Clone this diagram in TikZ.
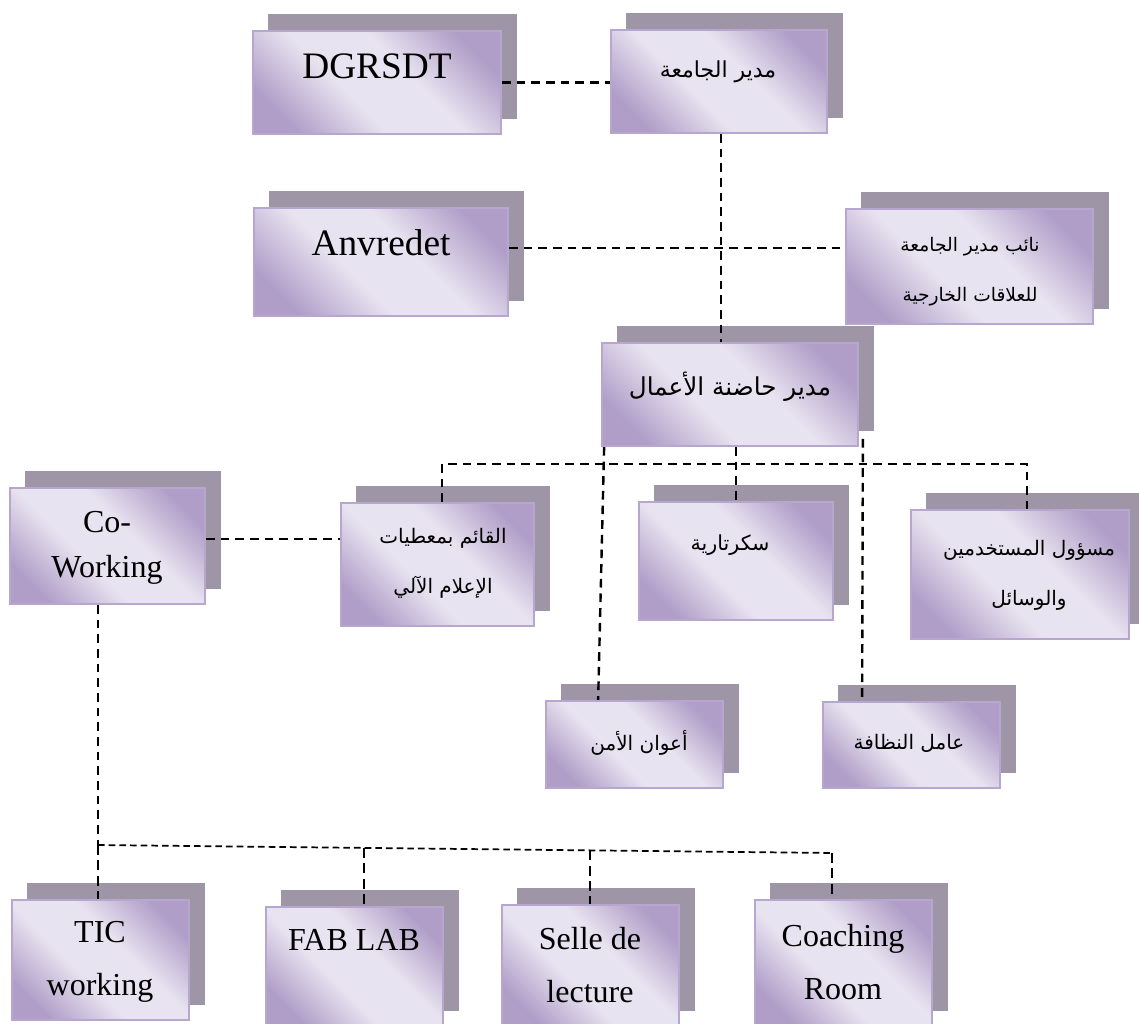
\documentclass[tikz,border=0pt]{standalone}
\usepackage{fontspec}
\setmainfont{Liberation Serif}
\newfontfamily\arabicfont[Script=Arabic]{DejaVu Sans}
\TeXXeTstate=1
\usetikzlibrary{fit,calc}

\pgfdeclarelayer{shadows}
\pgfdeclarelayer{links}
\pgfsetlayers{shadows,links,main}

\definecolor{shadowgrey}{RGB}{158,149,166}
\definecolor{lilac}{RGB}{176,158,200}
\definecolor{paleLilac}{RGB}{232,227,240}
\definecolor{edgeLilac}{RGB}{183,166,206}

% lilac at two opposite corners, pale band along the other diagonal
\pgfdeclareverticalshading{lilacglow}{100bp}{color(0bp)=(lilac); color(24bp)=(lilac); color(42bp)=(paleLilac); color(58bp)=(paleLilac); color(76bp)=(lilac); color(100bp)=(lilac)}

\tikzset{
  frontbox/.style={draw=edgeLilac, line width=1.3pt, shading=lilacglow, shading angle=-45, inner sep=0pt},
  link/.style={draw=black, line width=1.8pt, dash pattern=on 6.5pt off 4.5pt},
  finelink/.style={draw=black, line width=1.3pt, dash pattern=on 5pt off 3pt},
  droplink/.style={draw=black, line width=1.6pt, dash pattern=on 7.5pt off 4pt},
  latbig/.style={font=\fontsize{28}{34}\selectfont, align=center},
  latmid/.style={font=\fontsize{24}{34}\selectfont, align=center},
  latlow/.style={font=\fontsize{24}{40}\selectfont, align=center},
  arab/.style={font={\arabicfont\fontsize{15}{37.5}\selectfont}, align=center},
}

% a front box given by its corners, with a grey card behind it
\newcommand\orgbox[5]{%
  \coordinate (#1-a) at (#2,#3);
  \coordinate (#1-b) at (#4,#5);
  \node[frontbox, fit=(#1-a)(#1-b)] (#1) {};
  \begin{pgfonlayer}{shadows}
    \fill[shadowgrey] ($(#1-a)+(15,-17)$) rectangle ($(#1-b)+(16,-15)$);
  \end{pgfonlayer}
}

\begin{document}
\begin{tikzpicture}[x=0.75pt,y=-0.75pt]
\useasboundingbox (0,0) rectangle (1139,1024);

% boxes
\orgbox{dg}{253}{31}{501}{134}
\orgbox{md}{611}{30}{827}{133}
\orgbox{an}{254}{208}{508}{316}
\orgbox{nb}{846}{209}{1093}{324}
\orgbox{hd}{602}{343}{858}{446}
\orgbox{cw}{10}{488}{205}{604}
\orgbox{qa}{341}{503}{534}{626}
\orgbox{sk}{639}{502}{833}{620}
\orgbox{ms}{911}{510}{1129}{639}
\orgbox{aw}{546}{701}{723}{788}
\orgbox{nz}{823}{702}{1000}{788}
\orgbox{tic}{12}{900}{189}{1020}
\orgbox{fab}{266}{907}{443}{1026}
\orgbox{sel}{502}{905}{679}{1026}
\orgbox{coa}{755}{900}{932}{1026}

% labels
\node[latbig] (dg-t) at (377,66) {DGRSDT};
\node[arab, font={\arabicfont\fontsize{16.5}{30}\selectfont}] (md-t) at (718,72) {\beginR مدير الجامعة\endR};
\node[latbig] (an-t) at (381,243) {Anvredet};
\node[arab, font={\arabicfont\fontsize{14}{37.5}\selectfont}] (nb-t) at (970,272) {\beginR نائب مدير الجامعة\endR\\\beginR للعلاقات الخارجية\endR};
\node[arab, font={\arabicfont\fontsize{18.5}{30}\selectfont}] (hd-t) at (730,387) {\beginR مدير حاضنة الأعمال\endR};
\node[latmid] (cw-t) at (107,548) {Co-\\Working};
\node[arab] (qa-t) at (443,563) {\beginR القائم بمعطيات\endR\\\beginR الإعلام الآلي\endR};
\node[arab, font={\arabicfont\fontsize{15.5}{30}\selectfont}] (sk-t) at (730,545) {\beginR سكرتارية\endR};
\node[arab] (ms-t) at (1029,575) {\beginR مسؤول المستخدمين\endR\\\beginR والوسائل\endR};
\node[arab] (aw-t) at (639,743) {\beginR أعوان الأمن\endR};
\node[arab] (nz-t) at (909,743) {\beginR عامل النظافة\endR};
\node[latlow] (tic-t) at (100,962) {TIC\\working};
\node[latlow] (fab-t) at (354,940) {FAB LAB};
\node[latlow] (sel-t) at (590,965) {Selle de\\lecture};
\node[latlow] (coa-t) at (843,962) {Coaching\\Room};

% connectors
\coordinate (row2) at (0,248);
\coordinate (cwRow) at (0,539);
\coordinate (busL) at (442,464);
\coordinate (busR) at (1027,464);
\coordinate (trunk) at (98,845);
\coordinate (trunkEnd) at (832,853);
\coordinate (dFab) at ($(trunk)!0.3624!(trunkEnd)$);
\coordinate (dSel) at ($(trunk)!0.6703!(trunkEnd)$);

\begin{pgfonlayer}{links}
  \draw[link] (dg.east) -- (dg.east -| md.west);
  \draw[link] ($(md.south)+(2,0)$) -- ($(md.south |- hd.north)+(2,0)$);
  \draw[link] (an.east |- row2) -- (nb.west |- row2);
  \draw[link] (sk.north |- hd.south) -- (sk.north);
  \draw[link] (qa.north -| busL) -- (busL) -- (busR) -- (busR |- ms.north);
  \draw[link] ($(hd.south west)+(3,0)$) -- ($(aw.north west)+(53,0)$);
  \draw[link] ($(hd.south east)+(4,-8)$) -- ($(nz.north west)+(40,0)$);
  \draw[link] (cw.east |- cwRow) -- (qa.west |- cwRow);
  \draw[link] (cw.south -| trunk) -- (trunk);
  \draw[finelink] (trunk) -- (trunkEnd);
  \draw[droplink] (trunk) -- (trunk |- tic.north);
  \draw[droplink] (dFab) -- (dFab |- fab.north);
  \draw[droplink] (dSel) -- (dSel |- sel.north);
  \draw[droplink] (trunkEnd) -- (trunkEnd |- coa.north);
\end{pgfonlayer}
\end{tikzpicture}
\end{document}
